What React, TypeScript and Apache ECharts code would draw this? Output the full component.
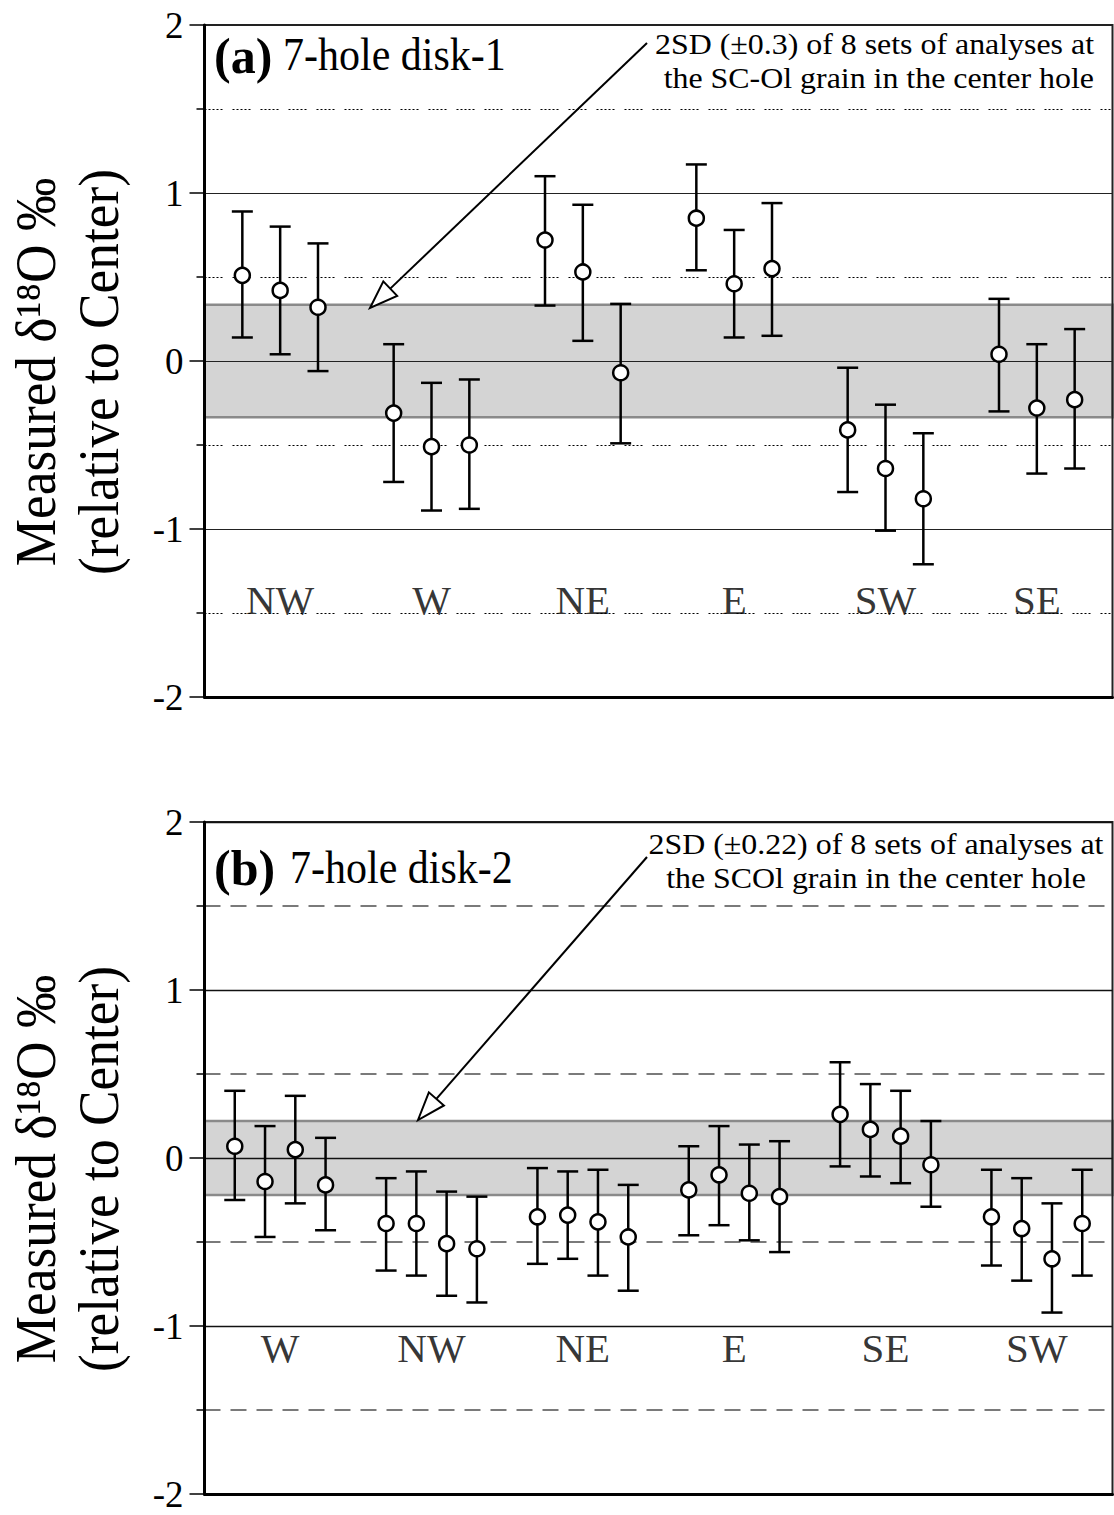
import React, { useEffect, useRef } from "react";
import * as echarts from "echarts";

// ---------- Data ----------
const A_GROUPS = ["NW", "W", "NE", "E", "SW", "SE"];
const A_MEAN = [
  [0.51, 0.42, 0.32],
  [-0.31, -0.51, -0.5],
  [0.72, 0.53, -0.07],
  [0.85, 0.46, 0.55],
  [-0.41, -0.64, -0.82],
  [0.04, -0.28, -0.23],
];
const A_LOW = [
  [0.14, 0.04, -0.06],
  [-0.72, -0.89, -0.88],
  [0.33, 0.12, -0.49],
  [0.54, 0.14, 0.15],
  [-0.78, -1.01, -1.21],
  [-0.3, -0.67, -0.64],
];
const A_HIGH = [
  [0.89, 0.8, 0.7],
  [0.1, -0.13, -0.11],
  [1.1, 0.93, 0.34],
  [1.17, 0.78, 0.94],
  [-0.04, -0.26, -0.43],
  [0.37, 0.1, 0.19],
];
const A_BAND = 0.335;
const A_LABEL_Y = -1.42;

const B_GROUPS = ["W", "NW", "NE", "E", "SE", "SW"];
const B_MEAN = [
  [0.07, -0.14, 0.05, -0.16],
  [-0.39, -0.39, -0.51, -0.54],
  [-0.35, -0.34, -0.38, -0.47],
  [-0.19, -0.1, -0.21, -0.23],
  [0.26, 0.17, 0.13, -0.04],
  [-0.35, -0.42, -0.6, -0.39],
];
const B_LOW = [
  [-0.25, -0.47, -0.27, -0.43],
  [-0.67, -0.7, -0.82, -0.86],
  [-0.63, -0.6, -0.7, -0.79],
  [-0.46, -0.4, -0.49, -0.56],
  [-0.05, -0.11, -0.15, -0.29],
  [-0.64, -0.73, -0.92, -0.7],
];
const B_HIGH = [
  [0.4, 0.19, 0.37, 0.12],
  [-0.12, -0.08, -0.2, -0.23],
  [-0.06, -0.08, -0.07, -0.16],
  [0.07, 0.19, 0.08, 0.1],
  [0.57, 0.44, 0.4, 0.22],
  [-0.07, -0.12, -0.27, -0.07],
];
const B_BAND = 0.22;
const B_LABEL_Y = -1.13;

const Y_TICKS = [-2, -1, 0, 1, 2];

// ---------- Helpers ----------
const FONT = "'Liberation Serif', 'Times New Roman', serif";

function buildPanel(means: number[][], lows: number[][], highs: number[][], groups: string[]) {
  const n = means[0].length;
  const pts: number[][] = [];
  const bars: number[][] = [];
  means.forEach((g, gi) =>
    g.forEach((v, i) => {
      const x = gi * (n + 1) + i + 1;
      pts.push([x, v]);
      bars.push([x, lows[gi][i], highs[gi][i]]);
    })
  );
  const labels = groups.map((name, gi) => ({ name, pos: gi * (n + 1) + (n + 1) / 2 }));
  return { pts, bars, labels, xMax: groups.length * (n + 1) };
}

const renderErrorBar = (_p: any, api: any) => {
  const x = api.value(0);
  const lo = api.coord([x, api.value(1)]);
  const hi = api.coord([x, api.value(2)]);
  const hw = 10.5;
  const st = { stroke: "#000", lineWidth: 2.5 };
  return {
    type: "group",
    children: [
      { type: "line", shape: { x1: lo[0], y1: lo[1], x2: hi[0], y2: hi[1] }, style: st },
      { type: "line", shape: { x1: hi[0] - hw, y1: hi[1], x2: hi[0] + hw, y2: hi[1] }, style: st },
      { type: "line", shape: { x1: lo[0] - hw, y1: lo[1], x2: lo[0] + hw, y2: lo[1] }, style: st },
    ],
  };
};

function arrow(tail: number[], tip: number[]) {
  const dx = tip[0] - tail[0];
  const dy = tip[1] - tail[1];
  const len = Math.sqrt(dx * dx + dy * dy);
  const ux = dx / len, uy = dy / len;
  const hl = 28, hh = 10;
  const bx = tip[0] - ux * hl, by = tip[1] - uy * hl;
  const px = -uy * hh, py = ux * hh;
  return [
    { type: "line", z: 20, shape: { x1: tail[0], y1: tail[1], x2: bx, y2: by }, style: { stroke: "#000", lineWidth: 2 } },
    {
      type: "polygon",
      z: 20,
      shape: { points: [[tip[0], tip[1]], [bx + px, by + py], [bx - px, by - py]] },
      style: { fill: "#fff", stroke: "#000", lineWidth: 2 },
    },
  ];
}

function txt(text: string, x: number, y: number, size: number, opts: any = {}) {
  const align = opts.align || "left";
  const style: any = {
    text,
    fontFamily: FONT,
    fontSize: size,
    fontWeight: opts.bold ? "bold" : "normal",
    fill: "#000",
    align,
    textAlign: align,
    verticalAlign: "middle",
    textVerticalAlign: "middle",
  };
  if (opts.lineHeight) style.lineHeight = opts.lineHeight;
  return {
    type: "text",
    z: 20,
    x,
    y,
    rotation: opts.rotation || 0,
    scaleX: opts.scaleX || 1,
    scaleY: opts.scaleY || 1,
    style,
  };
}

export default function App() {
  const ref = useRef<HTMLDivElement>(null);

  useEffect(() => {
    if (!ref.current) return;
    const chart = echarts.init(ref.current, undefined, { renderer: "svg" });
    const pa = buildPanel(A_MEAN, A_LOW, A_HIGH, A_GROUPS);
    const pb = buildPanel(B_MEAN, B_LOW, B_HIGH, B_GROUPS);

    const grids = [
      { left: 204.5, top: 25, width: 908, height: 672 },
      { left: 204.5, top: 822, width: 908, height: 672 },
    ].map((g) => ({ ...g, show: true, borderColor: "#222", borderWidth: 2, z: 2, backgroundColor: "transparent" }));

    const xAxis = [pa, pb].map((p, i) => ({
      type: "value",
      gridIndex: i,
      min: 0,
      max: p.xMax,
      position: "bottom",
      axisLine: { show: true, onZero: false, lineStyle: { color: "#000", width: 3 } },
      axisTick: { show: false },
      axisLabel: { show: false },
      splitLine: { show: false },
      z: 2,
    }));

    const splitStyles = [
      { major: { color: "#222", width: 1 }, minor: { color: "#000", width: 1.2, type: [2, 2, 2, 2, 2, 2, 2, 2, 2, 10] } },
      { major: { color: "#111", width: 1.3 }, minor: { color: "#7a7a7a", width: 2, type: [16, 10] } },
    ];

    const yAxis = [0, 1].map((i) => ({
      type: "value",
      gridIndex: i,
      min: Y_TICKS[0],
      max: Y_TICKS[Y_TICKS.length - 1],
      interval: 1,
      axisLine: { show: true, onZero: false, lineStyle: { color: "#000", width: 3 } },
      axisTick: { show: true, length: 15, lineStyle: { color: "#000", width: 1.5 } },
      minorTick: { show: true, splitNumber: 2, length: 8, lineStyle: { color: "#000", width: 1.5 } },
      axisLabel: {
        show: true,
        margin: 21,
        fontSize: 37,
        lineHeight: 26,
        fontFamily: FONT,
        color: "#000",
        formatter: (v: number) => String(v),
      },
      splitLine: { show: true, lineStyle: splitStyles[i].major },
      minorSplitLine: { show: true, lineStyle: splitStyles[i].minor },
      z: 2,
    }));

    const series: any[] = [];
    [
      { p: pa, band: A_BAND, labelY: A_LABEL_Y },
      { p: pb, band: B_BAND, labelY: B_LABEL_Y },
    ].forEach(({ p, band, labelY }, i) => {
      series.push({
        type: "line",
        xAxisIndex: i,
        yAxisIndex: i,
        data: [],
        silent: true,
        z: 1,
        markArea: {
          silent: true,
          itemStyle: { color: "#d4d4d4", borderColor: "#8a8a8a", borderWidth: 2.5 },
          data: [[{ yAxis: -band }, { yAxis: band }]],
        },
      });
      series.push({
        type: "custom",
        xAxisIndex: i,
        yAxisIndex: i,
        renderItem: renderErrorBar,
        encode: { x: 0, y: [1, 2] },
        data: p.bars,
        silent: true,
        z: 3,
      });
      series.push({
        type: "scatter",
        xAxisIndex: i,
        yAxisIndex: i,
        symbol: "circle",
        symbolSize: 15,
        itemStyle: { color: "#fff", borderColor: "#000", borderWidth: 2.5, opacity: 1 },
        data: p.pts,
        silent: true,
        z: 4,
      });
      series.push({
        type: "scatter",
        xAxisIndex: i,
        yAxisIndex: i,
        symbolSize: 1,
        itemStyle: { color: "rgba(0,0,0,0)" },
        data: p.labels.map((l) => ({ name: l.name, value: [l.pos, labelY] })),
        label: {
          show: true,
          position: "inside",
          formatter: "{b}",
          fontSize: 41,
          fontFamily: FONT,
          color: "#000",
        },
        silent: true,
        z: 5,
      });
    });

    const graphic: any[] = [
      // Panel (a)
      txt("(a)", 214, 56, 50, { bold: true }),
      txt("7-hole disk-1", 283, 54, 42, { scaleY: 1.12 }),
      txt("2SD (±0.3) of 8 sets of analyses at\nthe SC-Ol grain in the center hole", 1094, 61, 29, {
        align: "right",
        lineHeight: 34,
        scaleX: 1.1,
      }),
      ...arrow([647, 43], [370, 308]),
      txt("Measured δ¹⁸O ‰", 35, 372, 58, { rotation: Math.PI / 2, scaleX: 0.92, align: "center" }),
      txt("(relative to Center)", 98, 372, 58, { rotation: Math.PI / 2, scaleX: 0.92, align: "center" }),
      // Panel (b)
      txt("(b)", 214, 868, 50, { bold: true }),
      txt("7-hole disk-2", 290, 867.5, 42, { scaleY: 1.12 }),
      txt("2SD (±0.22) of 8 sets of analyses at\nthe SCOl grain in the center hole", 876, 861, 29, {
        align: "center",
        lineHeight: 34,
        scaleX: 1.1,
      }),
      ...arrow([647, 857], [418, 1120]),
      txt("Measured δ¹⁸O ‰", 35, 1169, 58, { rotation: Math.PI / 2, scaleX: 0.92, align: "center" }),
      txt("(relative to Center)", 98, 1169, 58, { rotation: Math.PI / 2, scaleX: 0.92, align: "center" }),
    ];

    chart.setOption({
      animation: false,
      backgroundColor: "#fff",
      grid: grids,
      xAxis,
      yAxis,
      series,
      graphic,
    });
    return () => chart.dispose();
  }, []);

  return (
    <div
      ref={ref}
      style={{ position: "absolute", left: 0, top: 0, width: 1114, height: 1515, background: "#fff" }}
    />
  );
}
